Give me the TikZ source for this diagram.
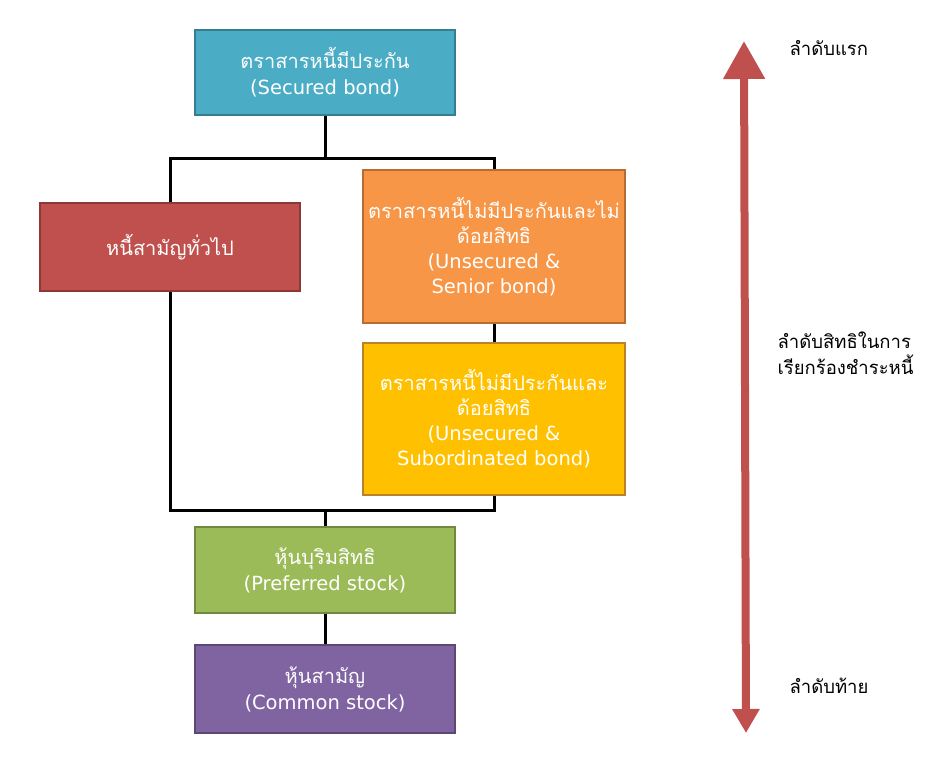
\documentclass[tikz,border=0pt]{standalone}
\usepackage{fontspec}
\setmainfont[Script=Thai]{Loma}
\newfontfamily\en{DejaVu Sans}
\usetikzlibrary{arrows.meta}

\definecolor{tealfill}{HTML}{4BACC6}
\definecolor{tealline}{HTML}{357D91}
\definecolor{redfill}{HTML}{C0504D}
\definecolor{redline}{HTML}{8C3836}
\definecolor{orangefill}{HTML}{F79646}
\definecolor{orangeline}{HTML}{B66D31}
\definecolor{yellowfill}{HTML}{FFC000}
\definecolor{yellowline}{HTML}{B9822B}
\definecolor{greenfill}{HTML}{9BBB59}
\definecolor{greenline}{HTML}{71893F}
\definecolor{purplefill}{HTML}{8064A2}
\definecolor{purpleline}{HTML}{5C4776}

\newcommand{\enline}[1]{{\en\fontsize{19.5}{25}\selectfont #1}}

\tikzset{
	claim/.style = {draw=#1line, fill=#1fill, line width=2pt, text=white,
		align=center, inner sep=0pt, font=\fontsize{20}{25}\selectfont},
	link/.style = {draw=black, line width=3pt},
	rank/.style = {align=left, anchor=west, font=\fontsize{18.5}{26}\selectfont},
}

\begin{document}
\begin{tikzpicture}[x=1pt, y=-1pt]
	\useasboundingbox (0,0) rectangle (946,760);

	% boxes
	\node[claim=teal, minimum width=260pt, minimum height=85pt] (secured) at (325,72.5) {ตราสารหนี้มีประกัน\\[1pt]\enline{(Secured bond)}};
	\node[claim=red, minimum width=260pt, minimum height=88pt] (general) at (170,247) {หนี้สามัญทั่วไป};
	\node[claim=orange, minimum width=262pt, minimum height=153pt] (senior) at (494,246.5) {ตราสารหนี้ไม่มีประกันและไม่\\ด้อยสิทธิ\\\enline{(Unsecured \&}\\\enline{Senior bond)}};
	\node[claim=yellow, minimum width=262pt, minimum height=152pt] (subord) at (494,419) {ตราสารหนี้ไม่มีประกันและ\\ด้อยสิทธิ\\\enline{(Unsecured \&}\\\enline{Subordinated bond)}};
	\node[claim=green, minimum width=260pt, minimum height=86pt] (preferred) at (325,570) {หุ้นบุริมสิทธิ\\[1pt]\enline{(Preferred stock)}};
	\node[claim=purple, minimum width=260pt, minimum height=88pt] (common) at (325,689) {หุ้นสามัญ\\[1pt]\enline{(Common stock)}};

	% connectors
	\coordinate (split) at (325,158);
	\coordinate (join) at (325,510);
	\draw[link] (secured.south) -- (split);
	\draw[link] (general.north) |- (split) -| (senior.north);
	\draw[link] (senior.south) -- (subord.north);
	\draw[link] (general.south) |- (join) -| (subord.south);
	\draw[link] (join) -- (preferred.north);
	\draw[link] (preferred.south) -- (common.north);

	% priority arrow
	\coordinate (first) at (744,41);
	\coordinate (last) at (746,733);
	\draw[draw=redfill, line width=8pt, {Triangle[length=38pt, width=40pt]}-{Triangle[length=24pt, width=26pt]}] (first) -- (last);

	\node[rank] (toplabel) at (786,48) {ลำดับแรก};
	\node[rank] (midlabel) at (774,353) {ลำดับสิทธิในการ\\เรียกร้องชำระหนี้};
	\node[rank] (botlabel) at (786,686) {ลำดับท้าย};
\end{tikzpicture}
\end{document}
